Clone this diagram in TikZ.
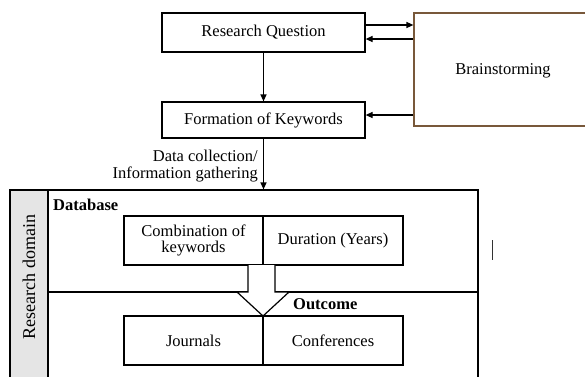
\documentclass[tikz,border=0pt]{standalone}
\usepackage{fontspec}
\setmainfont{Liberation Serif}
\usetikzlibrary{arrows.meta,calc}
\begin{document}
\begin{tikzpicture}[x=1pt,y=-1pt,
  every node/.style={font=\fontsize{16.5}{19}\selectfont},
  box/.style={draw, line width=1.2pt, inner sep=0pt, align=center},
  arr/.style={line width=1.2pt, -{Triangle[length=7pt,width=6pt]}},
  lbl/.style={font=\fontsize{16.5}{19}\selectfont\bfseries, anchor=west, inner sep=0pt}
]
\useasboundingbox (0,0) rectangle (585,376);
\begin{scope}
\clip (0,0) rectangle (585,376);
% top part
\node[box, minimum width=203pt, minimum height=39pt] (RQ) at (263.5,32.5) {Research Question};
\node[box, minimum width=203pt, minimum height=36pt] (FK) at (263.5,120) {Formation of Keywords};
\node[box, draw={rgb,255:red,120;green,88;blue,58}, minimum width=181pt, minimum height=113pt] (BS) at (504.5,69.5) {};
\node (BSt) at (503,71) {Brainstorming};
% outer region
\node[box, minimum width=468pt, minimum height=195pt] (OUT) at (244,287.5) {};
\node[box, fill=black!10, minimum width=38pt, minimum height=195pt] (BAND) at (29,287.5) {};
\node[rotate=90, inner sep=0pt, font=\fontsize{18}{20}\selectfont] (RD) at (29,277) {Research domain};
\coordinate (DL) at (48,292);
\coordinate (DR) at (478,292);
\draw[line width=1.2pt] (DL) -- (DR);
\node[lbl] (DB) at (53,205) {Database};
\node[lbl] (OC) at (293,304) {Outcome};
\node[box, minimum width=139pt, minimum height=49pt] (CK) at (193.5,240.5) {Combination of\\[-3pt]keywords};
\node[box, minimum width=140pt, minimum height=49pt] (DY) at (333,240.5) {Duration (Years)};
\node[box, minimum width=139pt, minimum height=49pt] (JO) at (193.5,340.5) {Journals};
\node[box, minimum width=140pt, minimum height=49pt] (CO) at (333,340.5) {Conferences};
% block arrow
\fill[white] (248,265) -- (248,292) -- (237,292) -- (263,316) -- (289,292) -- (275,292) -- (275,265) -- cycle;
\draw[line width=1.2pt, line join=miter] (248,265) -- (248,292) -- (237,292) -- (263,316) -- (289,292) -- (275,292) -- (275,265);
% connectors
\draw[arr] ([yshift=7.5pt]RQ.east) -- ([yshift=7.5pt]RQ.east -| BS.west);
\draw[arr] ([yshift=-6.5pt]RQ.east -| BS.west) -- ([yshift=-6.5pt]RQ.east);
\draw[arr] ([yshift=5pt]FK.east -| BS.west) -- ([yshift=5pt]FK.east);
\draw[arr] (RQ.south) -- (FK.south |- FK.north);
\draw[arr] (FK.south) -- (FK.south |- OUT.north);
\node[anchor=east, align=right, inner sep=0pt] (DC) at (258,166) {Data collection/\\[-2pt]Information gathering};
% small mark
\coordinate (M1) at (492,240);
\coordinate (M2) at (492,260);
\draw[line width=1pt, black!80] (M1) -- (M2);
\end{scope}
\end{tikzpicture}
\end{document}
